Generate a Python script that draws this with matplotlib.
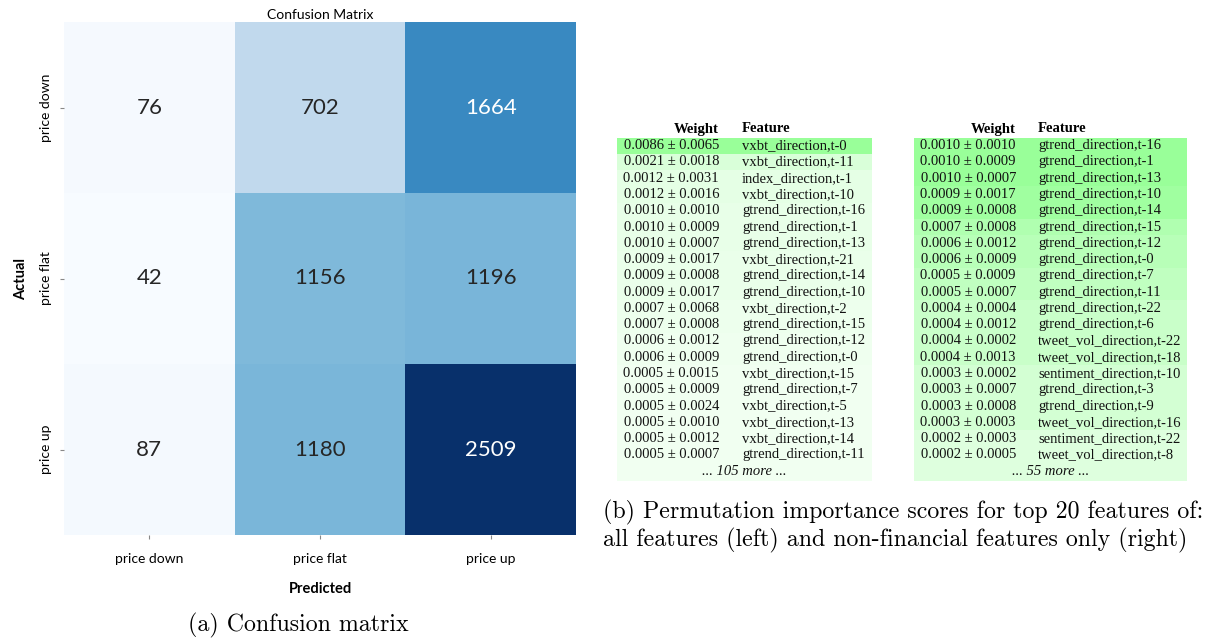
import colorsys
import numpy as np
import matplotlib
matplotlib.use("Agg")
import matplotlib.pyplot as plt
from matplotlib.patches import Rectangle
import seaborn as sns

# confusion matrix data
classes = ["price down", "price flat", "price up"]
cm = np.array([[76, 702, 1664],
               [42, 1156, 1196],
               [87, 1180, 2509]])

# permutation importance, all features
all_w = [0.0086, 0.0021, 0.0012, 0.0012, 0.0010, 0.0010, 0.0010, 0.0009, 0.0009, 0.0009,
         0.0007, 0.0007, 0.0006, 0.0006, 0.0005, 0.0005, 0.0005, 0.0005, 0.0005, 0.0005]
all_sd = ["0.0065", "0.0018", "0.0031", "0.0016", "0.0010", "0.0009", "0.0007", "0.0017", "0.0008", "0.0017",
          "0.0068", "0.0008", "0.0012", "0.0009", "0.0015", "0.0009", "0.0024", "0.0010", "0.0012", "0.0007"]
all_feat = ["vxbt_direction,t-0", "vxbt_direction,t-11", "index_direction,t-1", "vxbt_direction,t-10",
            "gtrend_direction,t-16", "gtrend_direction,t-1", "gtrend_direction,t-13", "vxbt_direction,t-21",
            "gtrend_direction,t-14", "gtrend_direction,t-10", "vxbt_direction,t-2", "gtrend_direction,t-15",
            "gtrend_direction,t-12", "gtrend_direction,t-0", "vxbt_direction,t-15", "gtrend_direction,t-7",
            "vxbt_direction,t-5", "vxbt_direction,t-13", "vxbt_direction,t-14", "gtrend_direction,t-11"]
all_more = 105

# permutation importance, non-financial features only
nf_w = [0.0010, 0.0010, 0.0010, 0.0009, 0.0009, 0.0007, 0.0006, 0.0006, 0.0005, 0.0005,
        0.0004, 0.0004, 0.0004, 0.0004, 0.0003, 0.0003, 0.0003, 0.0003, 0.0002, 0.0002]
nf_sd = ["0.0010", "0.0009", "0.0007", "0.0017", "0.0008", "0.0008", "0.0012", "0.0009", "0.0009", "0.0007",
         "0.0004", "0.0012", "0.0002", "0.0013", "0.0002", "0.0007", "0.0008", "0.0003", "0.0003", "0.0005"]
nf_feat = ["gtrend_direction,t-16", "gtrend_direction,t-1", "gtrend_direction,t-13", "gtrend_direction,t-10",
           "gtrend_direction,t-14", "gtrend_direction,t-15", "gtrend_direction,t-12", "gtrend_direction,t-0",
           "gtrend_direction,t-7", "gtrend_direction,t-11", "gtrend_direction,t-22", "gtrend_direction,t-6",
           "tweet_vol_direction,t-22", "tweet_vol_direction,t-18", "sentiment_direction,t-10",
           "gtrend_direction,t-3", "gtrend_direction,t-9", "tweet_vol_direction,t-16",
           "sentiment_direction,t-22", "tweet_vol_direction,t-8"]
nf_more = 55


def weight_color(w, wmax):
    # eli5 style green shading
    rel = (abs(w) / wmax) ** 0.7
    light = 1.0 - 0.2 * rel
    return colorsys.hls_to_rgb(120 / 360, light, 1.0)


fig = plt.figure(figsize=(12.1, 6.38), dpi=100)

# --- confusion matrix ---
ax = fig.add_axes([64 / 1210, 1 - 535 / 638, 512 / 1210, 513 / 638])
sns.heatmap(cm, annot=True, fmt="d", cmap="Blues", cbar=False, ax=ax,
            xticklabels=classes, yticklabels=classes,
            annot_kws={"fontsize": 16, "family": "Lato"})
ax.set_title("Confusion Matrix", fontsize=10, family="Lato", pad=2)
ax.set_xlabel("Predicted", fontsize=10.5, fontweight="bold", family="Lato", labelpad=12)
ax.set_ylabel("Actual", fontsize=10.5, fontweight="bold", family="Lato", labelpad=8)
ax.tick_params(axis="both", length=3, color="#888888", labelsize=10)
plt.setp(ax.get_xticklabels(), family="Lato", rotation=0)
plt.setp(ax.get_yticklabels(), family="Lato", rotation=90, va="center")
ax.tick_params(axis="x", pad=10)
ax.tick_params(axis="y", pad=6)

# --- tables, drawn in pixel space ---
ov = fig.add_axes([0, 0, 1, 1])
ov.set_xlim(0, 1210)
ov.set_ylim(638, 0)
ov.axis("off")

row0 = 145.7
row_h = 16.27
head_y = 129


def draw_table(weights, sds, feats, more, x0, x1, w_right, f_left):
    wmax = max(weights)
    for i, (w, sd, f) in enumerate(zip(weights, sds, feats)):
        yc = row0 + i * row_h
        ov.add_patch(Rectangle((x0, yc - row_h / 2), x1 - x0, row_h,
                               facecolor=weight_color(w, wmax), edgecolor="none"))
        ov.text(w_right, yc, f"{w:.4f} \u00b1 {sd}", ha="right", va="center",
                family="Liberation Serif", fontsize=10.5, color="#111111")
        ov.text(f_left, yc, f, ha="left", va="center",
                family="Liberation Serif", fontsize=10.5, color="#111111")
    yc = row0 + len(weights) * row_h
    ov.add_patch(Rectangle((x0, yc - row_h / 2), x1 - x0, row_h + 2,
                           facecolor=weight_color(weights[-1], wmax), edgecolor="none"))
    ov.text((x0 + x1) / 2, yc, f"... {more} more ...", ha="center", va="center",
            family="Liberation Serif", fontsize=10.5, style="italic", color="#111111")
    ov.text(w_right, head_y, "Weight", ha="right", va="center",
            family="Liberation Serif", fontsize=10.5, fontweight="bold")
    ov.text(f_left, head_y, "Feature", ha="left", va="center",
            family="Liberation Serif", fontsize=10.5, fontweight="bold")


draw_table(all_w, all_sd, all_feat, all_more, 617, 872, 719, 742)
draw_table(nf_w, nf_sd, nf_feat, nf_more, 914, 1187, 1016, 1038)

# --- captions ---
ov.text(188, 625, "(a) Confusion matrix", ha="left", va="center", family="cmr10", fontsize=17.2)
ov.text(603, 512, "(b) Permutation importance scores for top 20 features of:",
        ha="left", va="center", family="cmr10", fontsize=17.2)
ov.text(603, 540, "all features (left) and non-financial features only (right)",
        ha="left", va="center", family="cmr10", fontsize=17.2)

fig.savefig("out.png", dpi=100)
